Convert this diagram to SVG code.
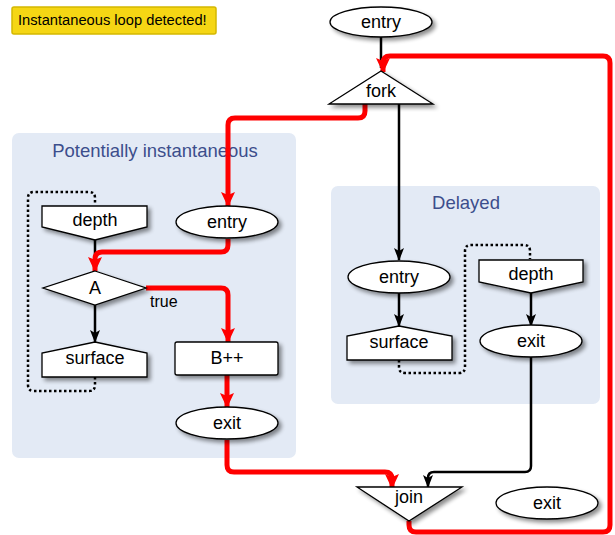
<svg xmlns="http://www.w3.org/2000/svg" width="615" height="535" viewBox="0 0 615 535">
<defs>
<style>
.node{fill:#fff;stroke:#000;stroke-width:1.3;filter:url(#sh)}
.lbl{font-family:"Liberation Sans",Arial,sans-serif;font-size:18px;text-anchor:middle;fill:#000}
.grp{fill:#e3eaf5}
.gt{font-family:"Liberation Sans",Arial,sans-serif;font-size:18.5px;text-anchor:middle;fill:#3c4e8c}
.blk{fill:none;stroke:#000;stroke-width:2.5;stroke-linejoin:round}
.red{fill:none;stroke:#ff0000;stroke-width:5;stroke-linejoin:round}
.dot{fill:none;stroke:#000;stroke-width:2.5;stroke-dasharray:2.5 2.5}
</style>
<filter id="sh" x="-20%" y="-30%" width="150%" height="180%">
<feGaussianBlur in="SourceAlpha" stdDeviation="2"/>
<feOffset dx="3" dy="3" result="b"/>
<feComponentTransfer><feFuncA type="linear" slope="0.45"/></feComponentTransfer>
<feMerge><feMergeNode/><feMergeNode in="SourceGraphic"/></feMerge>
</filter>
<marker id="ab" viewBox="0 0 13 10" refX="12" refY="5" markerWidth="13" markerHeight="10" markerUnits="userSpaceOnUse" orient="auto">
<path d="M0,0 L3,5 L0,10 L13,5 Z" fill="#000"/>
</marker>
<marker id="ar" viewBox="0 0 15 14" refX="14" refY="7" markerWidth="15" markerHeight="14" markerUnits="userSpaceOnUse" orient="auto">
<path d="M0,0 L3,7 L0,14 L15,7 Z" fill="#ff0000"/>
</marker>
</defs>

<g id="warning">
<rect x="12" y="7" width="204" height="27" rx="2" fill="#f5d614" stroke="#d4b800" stroke-width="1.5"/>
<text x="18" y="25" font-family="Liberation Sans,Arial,sans-serif" font-size="14.7" fill="#000">Instantaneous loop detected!</text>
</g>

<g id="group-potential">
<rect class="grp" x="12" y="133" width="284" height="325" rx="7"/>
<text class="gt" x="155" y="157">Potentially instantaneous</text>
</g>
<g id="group-delayed">
<rect class="grp" x="331" y="186" width="269" height="218" rx="7"/>
<text class="gt" x="466" y="209">Delayed</text>
</g>

<g id="connectors">
<path class="blk" d="M381,37 V68"/>
<path class="blk" d="M399,104 V260" marker-end="url(#ab)"/>
<path class="blk" d="M95,240 V270" marker-end="url(#ab)"/>
<path class="blk" d="M95,305 V342" marker-end="url(#ab)"/>
<path class="blk" d="M399,293 V326" marker-end="url(#ab)"/>
<path class="blk" d="M531,293 V326" marker-end="url(#ab)"/>
<path class="blk" d="M531,357 V466 Q531,472 525,472 H434 Q428,472 428,478 V487" marker-end="url(#ab)"/>
<path class="dot" d="M95,377 V385 Q95,391 89,391 H34 Q28,391 28,385 V198 Q28,192 34,192 H89 Q95,192 95,198 V205"/>
<path class="dot" d="M399,360 V367 Q399,373 405,373 H459 Q465,373 465,367 V251 Q465,245 471,245 H524 Q530,245 530,251 V259"/>
<path class="red" d="M365,104 V111 Q365,118 358,118 H235 Q228,118 228,125 V206" marker-end="url(#ar)"/>
<path class="red" d="M228,239 V245 Q228,252 221,252 H102 Q95,252 95,259 V271" marker-end="url(#ar)"/>
<path class="red" d="M146,288 H221 Q228,288 228,295 V342" marker-end="url(#ar)"/>
<path class="red" d="M227,375 V407" marker-end="url(#ar)"/>
<path class="red" d="M227,440 V465 Q227,472 234,472 H385 Q392,472 392,479 V488" marker-end="url(#ar)"/>
<path class="red" d="M409,521 V525 Q409,532 416,532 H603 Q610,532 610,525 V63 Q610,56 603,56 H390 Q383,56 383,63 V72" marker-end="url(#ar)"/>
<text x="150" y="307" font-family="Liberation Sans,Arial,sans-serif" font-size="16" fill="#000">true</text>
</g>

<g id="entry-top">
<ellipse class="node" cx="381" cy="22" rx="51" ry="15"/>
<text class="lbl" x="381" y="28">entry</text>
</g>
<g id="fork">
<path class="node" d="M381,71 L433,104 H329 Z"/>
<text class="lbl" x="381" y="97">fork</text>
</g>
<g id="depth-left">
<path class="node" d="M42,206 H147 V227 L95,240 L42,227 Z"/>
<text class="lbl" x="95" y="226">depth</text>
</g>
<g id="entry-left">
<ellipse class="node" cx="227" cy="222" rx="51" ry="16"/>
<text class="lbl" x="227" y="228">entry</text>
</g>
<g id="A">
<path class="node" d="M95,271 L146,288 L95,305 L43,288 Z"/>
<text class="lbl" x="95" y="294">A</text>
</g>
<g id="surface-left">
<path class="node" d="M95,342 L147,353 V377 H42 V353 Z"/>
<text class="lbl" x="95" y="364">surface</text>
</g>
<g id="Bpp">
<rect class="node" x="175" y="342" width="103" height="33" rx="2"/>
<text class="lbl" x="227" y="364">B++</text>
</g>
<g id="exit-left">
<ellipse class="node" cx="227" cy="423" rx="51" ry="16"/>
<text class="lbl" x="227" y="429">exit</text>
</g>
<g id="entry-delayed">
<ellipse class="node" cx="399" cy="277" rx="51" ry="16"/>
<text class="lbl" x="399" y="283">entry</text>
</g>
<g id="surface-delayed">
<path class="node" d="M399,326 L452,336 V360 H347 V336 Z"/>
<text class="lbl" x="399" y="348">surface</text>
</g>
<g id="depth-delayed">
<path class="node" d="M479,260 H583 V282 L531,293 L479,282 Z"/>
<text class="lbl" x="531" y="280">depth</text>
</g>
<g id="exit-delayed">
<ellipse class="node" cx="531" cy="341" rx="51" ry="16"/>
<text class="lbl" x="531" y="347">exit</text>
</g>
<g id="join">
<path class="node" d="M357,487 H462 L409,521 Z"/>
<text class="lbl" x="409" y="503">join</text>
</g>
<g id="exit-bottom">
<ellipse class="node" cx="547" cy="503" rx="51" ry="16"/>
<text class="lbl" x="547" y="509">exit</text>
</g>
</svg>
